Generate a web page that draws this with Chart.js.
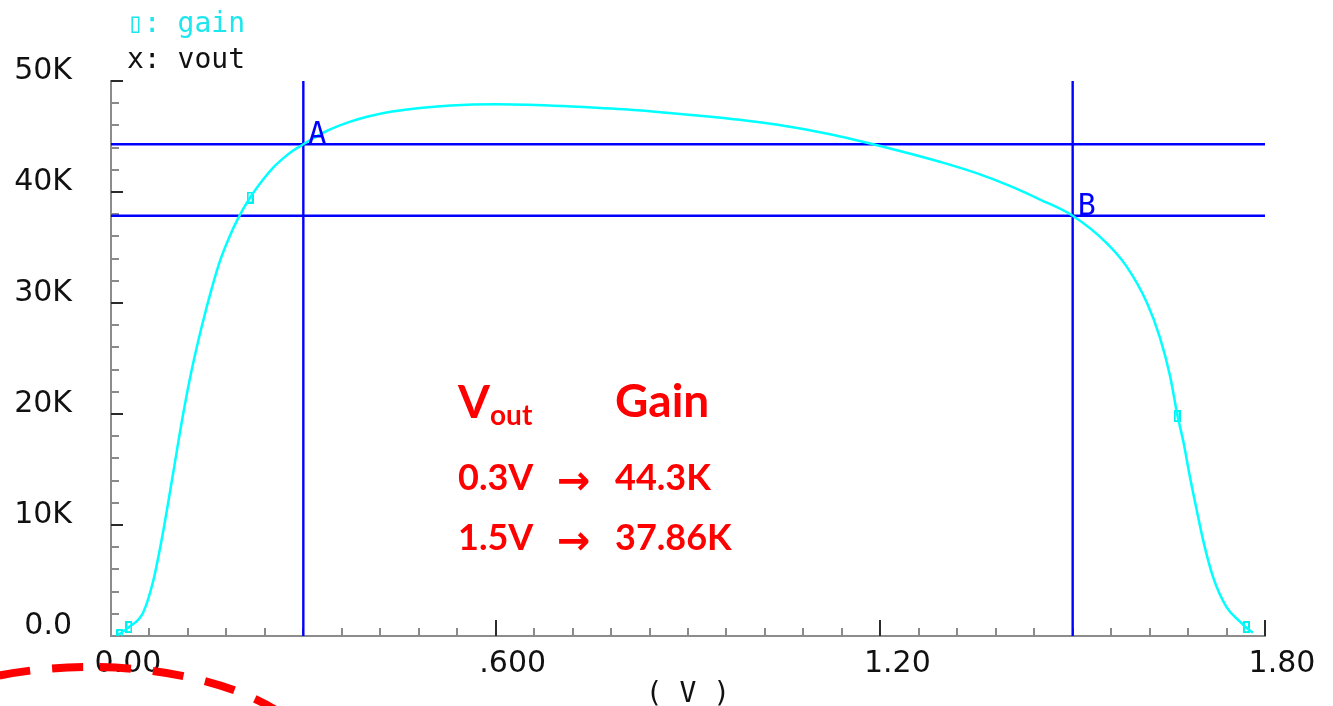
<!DOCTYPE html>
<html>
<head>
<meta charset="utf-8">
<script src="https://cdn.jsdelivr.net/npm/chart.js@4.4.0/dist/chart.umd.min.js"></script>
<style>
  html, body { margin: 0; background: #fff; }
  #wrap { width: 1333px; height: 706px; }
</style>
</head>
<body>
<div id="wrap"><canvas id="gainChart" width="1333" height="706"></canvas></div>
<script>
// gain curve (V, K)
const VOUT = [0.011, 0.028, 0.05, 0.066, 0.081, 0.097, 0.111, 0.126, 0.142, 0.158, 0.170, 0.185, 0.198, 0.217, 0.237, 0.253,
  0.27, 0.282, 0.30, 0.317, 0.34, 0.371, 0.401, 0.438, 0.486, 0.53, 0.6, 0.69, 0.757, 0.8, 0.875, 0.94, 0.98, 1.04, 1.1, 1.15,
  1.2, 1.25, 1.3, 1.35, 1.4, 1.45, 1.5, 1.553, 1.584, 1.616, 1.636, 1.652, 1.663, 1.673, 1.683, 1.694, 1.704, 1.719, 1.74,
  1.761, 1.772, 1.781];
const GAIN = [0.1, 0.8, 2.1, 5.0, 9.3, 14.7, 19.5, 24.0, 28.0, 31.5, 33.8, 36.0, 37.6, 39.5, 41.1, 42.2,
  43.1, 43.65, 44.3, 44.9, 45.6, 46.3, 46.8, 47.25, 47.6, 47.8, 47.9, 47.78, 47.6, 47.45, 47.1, 46.75, 46.5, 46.05, 45.45, 44.85,
  44.15, 43.4, 42.6, 41.7, 40.6, 39.3, 37.86, 35.4, 33.3, 30.0, 26.9, 23.4, 20.0, 17.4, 14.3, 11.2, 8.5, 5.3, 2.6,
  1.3, 0.7, 0.3];

// waveform markers
const MARK_VOUT = [0.014, 0.028, 0.217, 1.663, 1.771];
const MARK_GAIN = [0.1, 0.8, 39.5, 19.8, 0.8];

// cursors A and B
const CURSOR_NAMES = ["A", "B"];
const CURSOR_V = [0.3, 1.5];
const CURSOR_GAIN = [44.3, 37.86];

const X_TICKS = [0, 0.6, 1.2, 1.8];
const X_TICK_LABELS = ["0.00", ".600", "1.20", "1.80"];
const Y_TICKS = [0, 10, 20, 30, 40, 50];
const Y_TICK_LABELS = ["0.0", "10K", "20K", "30K", "40K", "50K"];

const MONO = "\"DejaVu Sans Mono\", \"DejaVu Sans\", monospace";
const THIN = "\"DejaVu Sans ExtraLight\", \"DejaVu Sans\", sans-serif";

function markerImage() {
  const c = document.createElement("canvas");
  c.width = 7;
  c.height = 12;
  const g = c.getContext("2d");
  g.strokeStyle = "#00f0f0";
  g.lineWidth = 2;
  g.strokeRect(1, 1, 5, 10);
  return c;
}

const axisTicks = {
  id: "axisTicks",
  beforeDatasetsDraw(chart) {
    const { ctx, scales: { x, y } } = chart;
    ctx.save();
    ctx.lineWidth = 2;
    for (let i = 1; i <= 30; i++) {
      const major = i % 10 === 0;
      const px = Math.round(x.getPixelForValue(i * 0.06));
      ctx.strokeStyle = major ? "#2b2b2b" : "#8a8a8a";
      ctx.beginPath();
      ctx.moveTo(px, y.bottom);
      ctx.lineTo(px, y.bottom - (major ? 16 : 8));
      ctx.stroke();
    }
    for (let i = 1; i <= 25; i++) {
      const major = i % 5 === 0;
      const py = Math.round(y.getPixelForValue(i * 2));
      ctx.strokeStyle = major ? "#2b2b2b" : "#8a8a8a";
      ctx.beginPath();
      ctx.moveTo(x.left, py);
      ctx.lineTo(x.left + (major ? 12 : 8), py);
      ctx.stroke();
    }
    ctx.restore();
  }
};

const notes = {
  id: "notes",
  afterDraw(chart) {
    const { ctx, scales: { x, y } } = chart;
    ctx.save();
    ctx.textBaseline = "alphabetic";

    // legend
    ctx.font = "28px " + MONO;
    ctx.fillStyle = "#1ee6ee";
    ctx.fillText("\u25AF: gain", 127, 32);
    ctx.fillStyle = "#111";
    ctx.fillText("x: vout", 127, 68);

    // x axis unit
    ctx.textAlign = "center";
    ctx.fillText("( V )", (x.left + x.right) / 2, 702);

    // cursor names
    ctx.textAlign = "left";
    ctx.fillStyle = "#0000ff";
    ctx.font = "30px " + MONO;
    CURSOR_NAMES.forEach((name, i) => {
      ctx.fillText(name, x.getPixelForValue(CURSOR_V[i]) + 5, y.getPixelForValue(CURSOR_GAIN[i]) - 1);
    });

    // red summary
    ctx.fillStyle = "#ff0000";
    ctx.font = "bold 46px Lato";
    ctx.fillText("V", 458, 418);
    ctx.fillText("Gain", 615, 417);
    ctx.font = "bold 28px Lato";
    ctx.fillText("out", 490, 425);
    const rows = [490, 550];
    CURSOR_V.forEach((v, i) => {
      ctx.font = "bold 36px Lato";
      ctx.fillText(v + "V", 458, rows[i]);
      ctx.fillText(CURSOR_GAIN[i] + "K", 615, rows[i]);
      ctx.font = "bold 40px \"DejaVu Sans\"";
      ctx.fillText("\u2192", 557, rows[i] + 4);
    });

    // dashed highlight at the corner, dashed outwards from its top
    ctx.strokeStyle = "#ff0000";
    ctx.lineWidth = 8;
    ctx.setLineDash([31, 22]);
    ctx.lineDashOffset = -10;
    ctx.beginPath();
    ctx.ellipse(90, 772, 230, 105, 0, 1.5 * Math.PI, 2 * Math.PI);
    ctx.stroke();
    ctx.lineDashOffset = -7;
    ctx.beginPath();
    ctx.ellipse(90, 772, 230, 105, 0, 1.5 * Math.PI, Math.PI, true);
    ctx.stroke();
    ctx.restore();
  }
};

function cursorLine(points) {
  return {
    type: "line",
    data: points,
    borderColor: "#0000ff",
    borderWidth: 2.4,
    pointRadius: 0,
    order: 2
  };
}

const cursorSets = [];
CURSOR_V.forEach((v) => cursorSets.push(cursorLine([{ x: v, y: Y_TICKS[0] }, { x: v, y: Y_TICKS[Y_TICKS.length - 1] }])));
CURSOR_GAIN.forEach((g) => cursorSets.push(cursorLine([{ x: X_TICKS[0], y: g }, { x: X_TICKS[X_TICKS.length - 1], y: g }])));

new Chart(document.getElementById("gainChart"), {
  type: "line",
  data: {
    datasets: [
      {
        label: "gain",
        data: VOUT.map((v, i) => ({ x: v, y: GAIN[i] })),
        borderColor: "#00ffff",
        borderWidth: 2.5,
        pointRadius: 0,
        cubicInterpolationMode: "monotone",
        order: 0
      },
      {
        type: "scatter",
        label: "markers",
        data: MARK_VOUT.map((v, i) => ({ x: v, y: MARK_GAIN[i] })),
        pointStyle: markerImage(),
        showLine: false,
        order: 1
      },
      ...cursorSets
    ]
  },
  options: {
    responsive: false,
    animation: false,
    devicePixelRatio: 1,
    layout: { padding: { top: 81, right: 68, left: 0, bottom: 0 } },
    plugins: { legend: { display: false }, tooltip: { enabled: false } },
    scales: {
      x: {
        type: "linear",
        min: X_TICKS[0],
        max: X_TICKS[X_TICKS.length - 1],
        afterBuildTicks: (s) => { s.ticks = X_TICKS.map((v) => ({ value: v })); },
        afterFit: (s) => { s.height = 70; },
        ticks: {
          callback: (v, i) => X_TICK_LABELS[i],
          labelOffset: 17,
          padding: 2,
          color: "#111",
          font: { family: THIN, size: 30 },
          maxRotation: 0,
          autoSkip: false
        },
        grid: { display: false },
        border: { display: true, color: "#8c8c8c", width: 2 }
      },
      y: {
        type: "linear",
        min: Y_TICKS[0],
        max: Y_TICKS[Y_TICKS.length - 1],
        afterBuildTicks: (s) => { s.ticks = Y_TICKS.map((v) => ({ value: v })); },
        afterFit: (s) => { s.width = 111; },
        ticks: {
          callback: (v, i) => Y_TICK_LABELS[i],
          labelOffset: -10,
          padding: 31,
          color: "#111",
          font: { family: THIN, size: 30 },
          autoSkip: false
        },
        grid: { display: false },
        border: { display: true, color: "#8c8c8c", width: 2 }
      }
    }
  },
  plugins: [axisTicks, notes]
});
</script>
</body>
</html>
